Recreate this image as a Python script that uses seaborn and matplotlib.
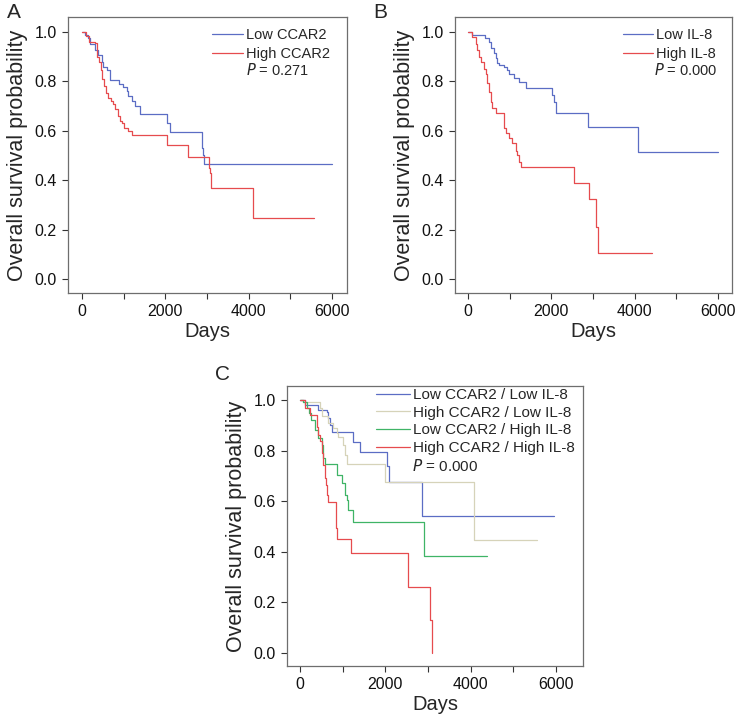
import seaborn as sns
import matplotlib.pyplot as plt

# Panel A: CCAR2
a_low_days = [0, 60, 150, 190, 310, 390, 470, 510, 590, 670, 880, 990, 1070, 1110, 1190, 1270, 1390, 2030, 2110, 2870, 2900, 2920, 5990]
a_low_surv = [1.0, 0.99, 0.975, 0.95, 0.927, 0.907, 0.88, 0.86, 0.846, 0.806, 0.79, 0.779, 0.76, 0.74, 0.72, 0.70, 0.667, 0.63, 0.596, 0.53, 0.50, 0.465, 0.465]
a_high_days = [0, 100, 160, 300, 370, 410, 450, 490, 530, 570, 630, 700, 750, 800, 870, 910, 950, 1000, 1110, 1210, 2040, 2540, 3040, 3070, 3100, 4110, 5580]
a_high_surv = [1.0, 0.985, 0.96, 0.955, 0.90, 0.88, 0.845, 0.81, 0.78, 0.753, 0.733, 0.72, 0.71, 0.69, 0.66, 0.64, 0.63, 0.61, 0.60, 0.585, 0.541, 0.495, 0.45, 0.43, 0.367, 0.246, 0.246]

# Panel B: IL-8
b_low_days = [0, 100, 410, 500, 540, 620, 660, 700, 740, 860, 940, 980, 1100, 1220, 1380, 2020, 2060, 2100, 2890, 4090, 5990]
b_low_surv = [1.0, 0.988, 0.974, 0.961, 0.934, 0.914, 0.893, 0.873, 0.866, 0.859, 0.846, 0.832, 0.812, 0.799, 0.772, 0.745, 0.718, 0.671, 0.614, 0.513, 0.513]
b_high_days = [0, 100, 180, 220, 260, 300, 380, 420, 460, 500, 540, 580, 660, 860, 900, 980, 1060, 1140, 1180, 1220, 1280, 2540, 2900, 3070, 3130, 4410]
b_high_surv = [1.0, 0.98, 0.953, 0.926, 0.899, 0.879, 0.852, 0.832, 0.792, 0.758, 0.717, 0.691, 0.671, 0.61, 0.59, 0.57, 0.55, 0.52, 0.50, 0.475, 0.455, 0.387, 0.324, 0.212, 0.107, 0.107]

# Panel C: combined groups
c_ll_days = [0, 120, 430, 625, 665, 705, 745, 1250, 1406, 2031, 2085, 2851, 5950]
c_ll_surv = [1.0, 0.98, 0.96, 0.954, 0.928, 0.901, 0.873, 0.835, 0.795, 0.74, 0.677, 0.54, 0.54]
c_hl_days = [0, 80, 470, 510, 665, 780, 860, 900, 1015, 1060, 1095, 1992, 4078, 5560]
c_hl_surv = [1.0, 0.99, 0.97, 0.935, 0.907, 0.888, 0.868, 0.855, 0.822, 0.782, 0.748, 0.677, 0.448, 0.448]
c_lh_days = [0, 80, 156, 210, 258, 350, 430, 510, 547, 586, 860, 977, 1055, 1094, 1133, 1250, 2905, 4390]
c_lh_surv = [1.0, 0.99, 0.967, 0.947, 0.921, 0.88, 0.849, 0.822, 0.771, 0.745, 0.705, 0.672, 0.626, 0.606, 0.565, 0.517, 0.385, 0.385]
c_hh_days = [0, 117, 235, 390, 430, 470, 510, 547, 586, 610, 630, 650, 844, 872, 1195, 2520, 3046, 3101]
c_hh_surv = [1.0, 0.967, 0.94, 0.895, 0.862, 0.836, 0.79, 0.744, 0.691, 0.665, 0.625, 0.598, 0.494, 0.45, 0.394, 0.262, 0.13, 0.0]

BLUE = '#5b6dc4'
RED = '#e64b4e'
GREEN = '#3fb466'
BEIGE = '#d6d3b9'

sns.set_style("ticks")
plt.rcParams['font.family'] = ['Liberation Sans', 'DejaVu Sans']

fig = plt.figure(figsize=(7.36, 7.19), dpi=100)
W, H = 736, 719


def px_axes(left, top, right, bottom):
    return fig.add_axes([left / W, 1 - bottom / H, (right - left) / W, (bottom - top) / H])


def style_axes(ax, xlim, ylim):
    ax.set_xlim(*xlim)
    ax.set_ylim(*ylim)
    ax.set_xticks(range(0, 7000, 1000))
    ax.set_xticklabels(['0', '', '2000', '', '4000', '', '6000'])
    ax.set_yticks([0.0, 0.2, 0.4, 0.6, 0.8, 1.0])
    ax.set_yticklabels(['0.0', '0.2', '0.4', '0.6', '0.8', '1.0'])
    ax.tick_params(direction='out', length=4, width=0.8, labelsize=11.5,
                   colors='#333333', labelcolor='#111111', pad=4)
    for sp in ax.spines.values():
        sp.set_visible(True)
        sp.set_color('#6e6e6e')
        sp.set_linewidth(0.9)
    ax.set_xlabel("Days", fontsize=14.5, labelpad=2)
    ax.set_ylabel("Overall survival probability", fontsize=15.5, labelpad=5)


def km(ax, days, surv, color, label):
    sns.lineplot(x=days, y=surv, ax=ax, color=color, label=label, lw=0.9,
                 drawstyle='steps-post', estimator=None, sort=False)


# A
axA = px_axes(68, 17, 347, 293)
km(axA, a_low_days, a_low_surv, BLUE, "Low CCAR2")
km(axA, a_high_days, a_high_surv, RED, "High CCAR2")
style_axes(axA, (-336, 6360), (-0.057, 1.061))
axA.legend(loc='upper left', bbox_to_anchor=(0.516, 0.96), frameon=False, fontsize=10.5,
           handlelength=2.1, handletextpad=0.2, borderpad=0, borderaxespad=0, labelspacing=0.35)
axA.text(0.638, 0.808, r"$\it{P}$ = 0.271", transform=axA.transAxes, fontsize=10.5, va='center')

# B
axB = px_axes(455, 17, 732, 293)
km(axB, b_low_days, b_low_surv, BLUE, "Low IL-8")
km(axB, b_high_days, b_high_surv, RED, "High IL-8")
style_axes(axB, (-312, 6336), (-0.057, 1.061))
axB.legend(loc='upper left', bbox_to_anchor=(0.606, 0.96), frameon=False, fontsize=10.5,
           handlelength=2.1, handletextpad=0.2, borderpad=0, borderaxespad=0, labelspacing=0.35)
axB.text(0.72, 0.808, r"$\it{P}$ = 0.000", transform=axB.transAxes, fontsize=10.5, va='center')

# C
axC = px_axes(287, 386, 583, 666)
km(axC, c_ll_days, c_ll_surv, BLUE, "Low CCAR2 / Low IL-8")
km(axC, c_hl_days, c_hl_surv, BEIGE, "High CCAR2 / Low IL-8")
km(axC, c_lh_days, c_lh_surv, GREEN, "Low CCAR2 / High IL-8")
km(axC, c_hh_days, c_hh_surv, RED, "High CCAR2 / High IL-8")
style_axes(axC, (-305, 6633), (-0.051, 1.055))
axC.legend(loc='upper left', bbox_to_anchor=(0.301, 0.993), frameon=False, fontsize=11,
           handlelength=2.2, handletextpad=0.2, borderpad=0, borderaxespad=0, labelspacing=0.24)
axC.text(0.422, 0.714, r"$\it{P}$ = 0.000", transform=axC.transAxes, fontsize=11, va='center')

fig.text(14 / W, 1 - 13 / H, "A", fontsize=15, ha='center', va='center')
fig.text(380 / W, 1 - 12 / H, "B", fontsize=15, ha='center', va='center')
fig.text(222 / W, 1 - 375 / H, "C", fontsize=15, ha='center', va='center')

fig.savefig("out.png", dpi=100)
